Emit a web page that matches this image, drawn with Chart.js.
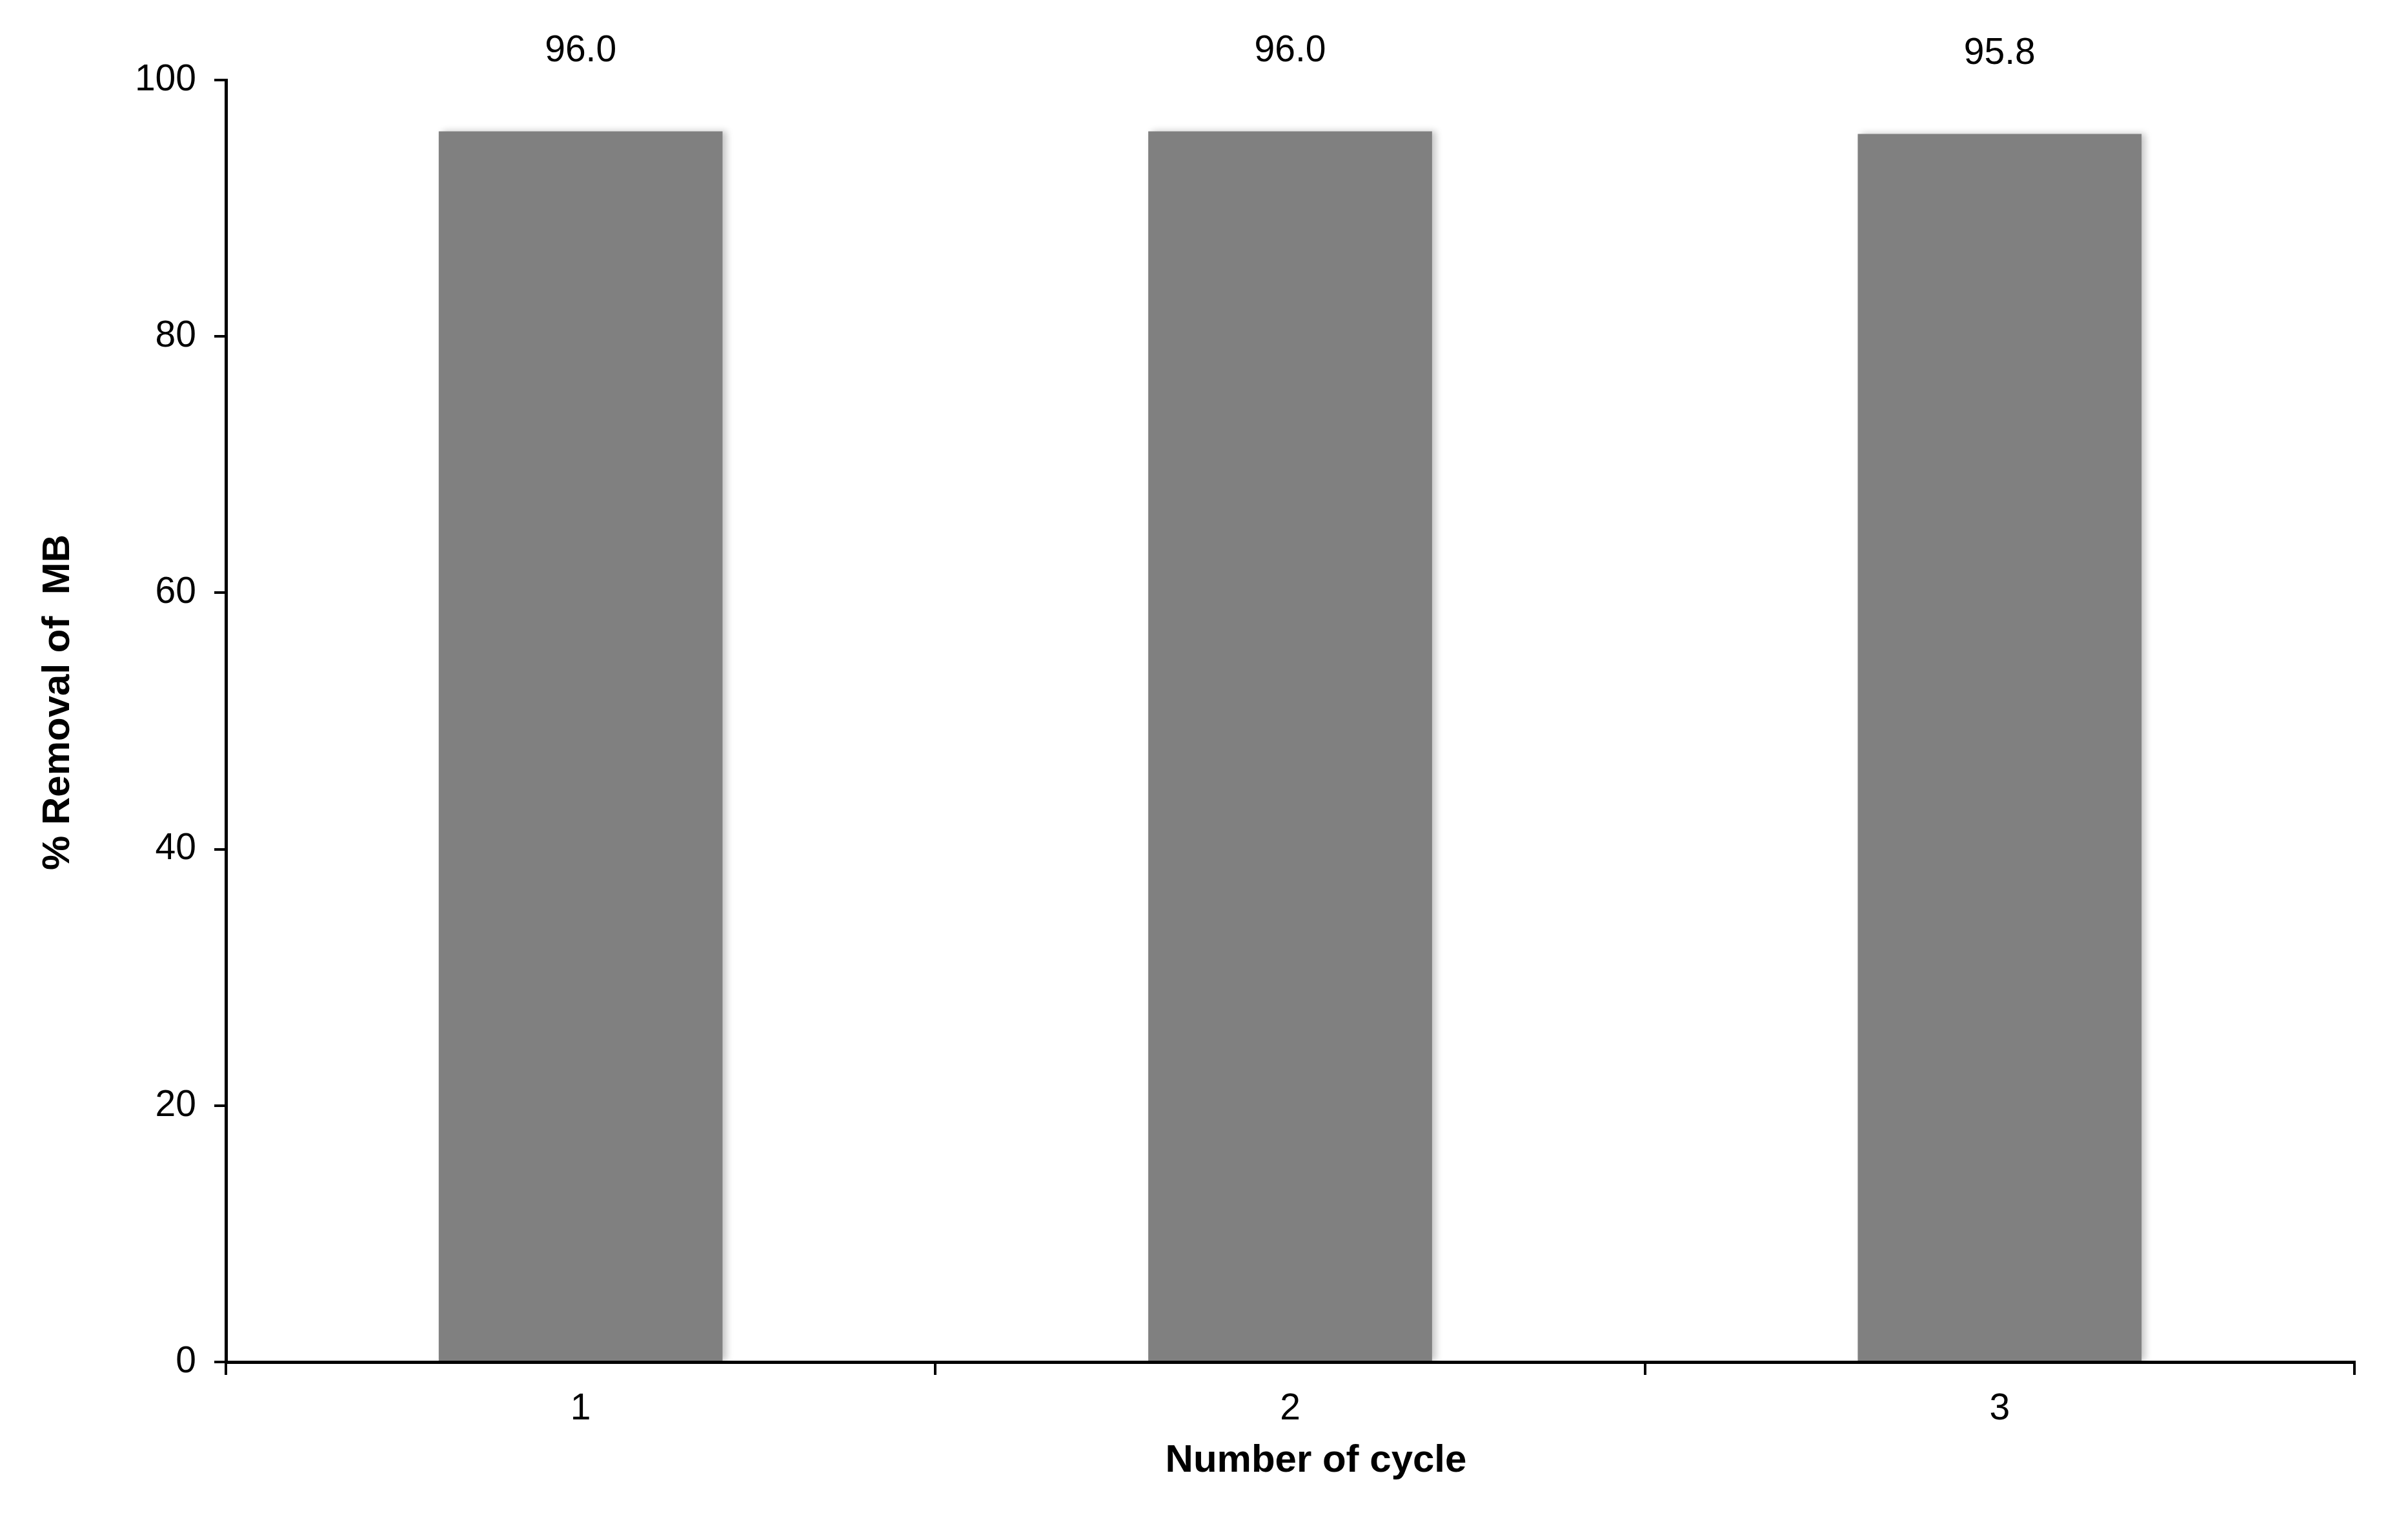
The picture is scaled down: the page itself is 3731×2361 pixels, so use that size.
<!DOCTYPE html>
<html>
<head>
<meta charset="utf-8">
<title>Removal of MB per cycle</title>
<script src="https://cdn.jsdelivr.net/npm/chart.js@4.4.1/dist/chart.umd.min.js"></script>
<style>
	html, body { margin: 0; padding: 0; background: #FFF; }
	.chart-box { width: 3731px; height: 2361px; }
</style>
</head>
<body>
<div class="chart-box"><canvas id="bar_chart"></canvas></div>
<script>
// CHART DATA
const cycle_labels = ["1", "2", "3"];
const removal_values = [96.0, 96.0, 95.8];
const y_ticks = [0, 20, 40, 60, 80, 100];

const x_title = "Number of cycle";
const y_title = "% Removal of  MB";

const FONT = "'Liberation Sans', Arial, sans-serif";

const ctx = document.getElementById("bar_chart").getContext("2d");

// SHADOW BEHIND THE BARS, VALUE LABELS ON TOP, AXIS TITLES
const bar_extras = {
	id: "bar_extras",
	beforeDatasetsDraw(chart){
		const c = chart.ctx;
		c.save();
		c.shadowColor = "rgba(0,0,0,0.22)";
		c.shadowBlur = 10;
		c.shadowOffsetX = 6;
		c.shadowOffsetY = 0;
	},
	afterDatasetsDraw(chart){
		const c = chart.ctx;
		c.restore();
		c.save();
		c.fillStyle = "#000";
		c.font = "57px " + FONT;
		c.textAlign = "center";
		c.textBaseline = "middle";
		chart.getDatasetMeta(0).data.forEach((bar, i) => {
			c.fillText(removal_values[i].toFixed(1), bar.x, bar.y - 124);
		});
		c.restore();
	},
	afterDraw(chart){
		const c = chart.ctx;
		const area = chart.chartArea;
		c.save();
		c.fillStyle = "#000";
		c.font = "bold 60px " + FONT;
		c.textAlign = "center";
		c.textBaseline = "middle";
		// x title sits a little right of the plot centre, like the original
		c.fillText(x_title, (area.left + area.right) / 2 + 40, chart.height - 98);
		// y title, rotated, a little above the plot centre
		c.translate(90, (area.top + area.bottom) / 2 - 29);
		c.rotate(-Math.PI / 2);
		c.fillText(y_title, 0, 0);
		c.restore();
	}
};

new Chart(ctx, {
	type: "bar",
	data: {
		labels: cycle_labels,
		datasets: [{
			data: removal_values,
			backgroundColor: "#808080",
			borderWidth: 0,
			categoryPercentage: 1.0,
			barPercentage: 0.4
		}]
	},
	options: {
		responsive: true,
		maintainAspectRatio: false,
		animation: false,
		layout: {
			padding: { left: 0, right: 83, top: 124, bottom: 62 }
		},
		plugins: {
			legend: { display: false },
			tooltip: { enabled: false }
		},
		scales: {
			x: {
				offset: true,
				grid: {
					offset: true,
					drawOnChartArea: false,
					drawTicks: true,
					tickLength: 20,
					color: "#000",
					lineWidth: 4
				},
				border: { display: true, color: "#000", width: 5 },
				ticks: {
					color: "#000",
					font: { family: FONT, size: 57 },
					padding: 19,
					maxRotation: 0
				},
				title: { display: false },
				afterFit(scale){ scale.height = 189; }
			},
			y: {
				min: 0,
				max: 100,
				afterBuildTicks(scale){
					scale.ticks = y_ticks.map(v => ({ value: v }));
				},
				grid: {
					drawOnChartArea: false,
					drawTicks: true,
					tickLength: 18,
					color: "#000",
					lineWidth: 4
				},
				border: { display: true, color: "#000", width: 5 },
				ticks: {
					color: "#000",
					font: { family: FONT, size: 57 },
					padding: 28
				},
				title: { display: false },
				afterFit(scale){ scale.width = 350; }
			}
		}
	},
	plugins: [bar_extras]
});
</script>
</body>
</html>
